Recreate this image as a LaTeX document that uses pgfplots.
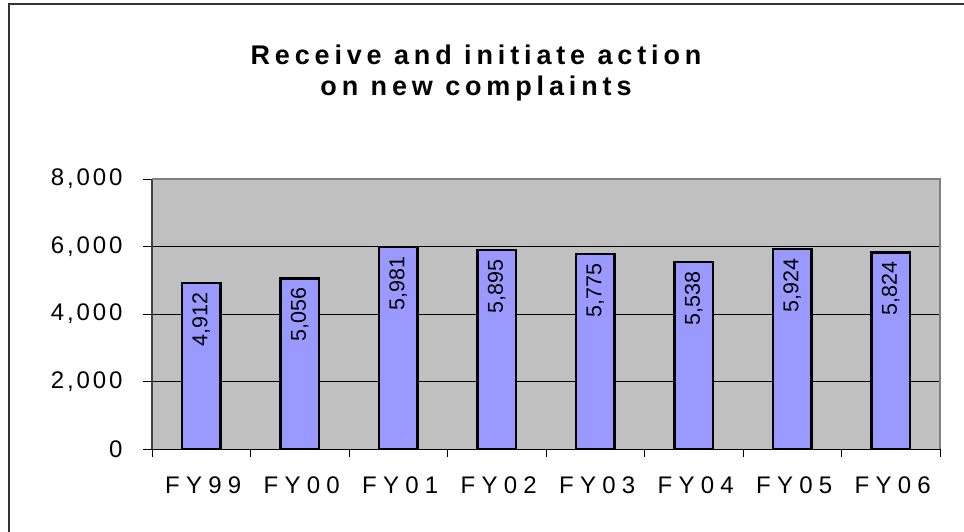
\documentclass[border=0pt]{standalone}
\usepackage{pgfplots}
\pgfplotsset{compat=1.18}
\usepackage{fontspec}
\setmainfont{Liberation Sans}
\newfontfamily\ylabfont[LetterSpace=12]{Liberation Sans}
\newfontfamily\xlabfont[LetterSpace=26]{Liberation Sans}
\newfontfamily\titlefont[LetterSpace=18]{Liberation Sans}
\definecolor{barfill}{HTML}{9999FF}
\definecolor{wall}{HTML}{C0C0C0}
\definecolor{walledge}{HTML}{808080}
\begin{document}
\begin{tikzpicture}
\path[use as bounding box] (0,0) rectangle (964pt,531pt);
\fill[white] (0,0) rectangle (964pt,531pt);
\draw[line width=2pt, black!80] (8.5pt,-2pt) -- (8.5pt,527pt) -- (966pt,527pt);
\node[font=\titlefont\bfseries\fontsize{27}{30}\selectfont, anchor=base] at (476pt,466pt) {Receive and initiate action};
\node[font=\titlefont\bfseries\fontsize{27}{30}\selectfont, anchor=base] at (476pt,435pt) {on new complaints};
\begin{axis}[
  at={(152pt,82pt)}, anchor=south west,
  scale only axis, width=788pt, height=270pt,
  xmin=-0.5, xmax=7.5, ymin=0, ymax=8000,
  axis background/.style={fill=wall},
  axis x line*=bottom, axis y line*=left,
  x axis line style={black, line width=0.8pt, -},
  y axis line style={black!75, line width=1.8pt, -},
  xtick={0,...,7},
  xticklabels={FY99,FY00,FY01,FY02,FY03,FY04,FY05,FY06},
  minor xtick={-0.5,0.5,...,7.5},
  major x tick style={draw=none},
  minor x tick style={black, line width=0.8pt},
  minor tick length=8pt,
  major tick length=9pt,
  tick align=outside,
  ytick={0,2000,4000,6000,8000},
  yticklabels={0,{2,000},{4,000},{6,000},{8,000}},
  y tick style={black, line width=0.8pt},
  ymajorgrids, grid style={black, line width=0.8pt},
  xticklabel style={font=\xlabfont\fontsize{24}{28}\selectfont, yshift=-15pt, xshift=2pt},
  yticklabel style={font=\ylabfont\fontsize{24}{28}\selectfont, xshift=-17pt},
  /pgf/number format/assume math mode=true,
  /pgf/number format/1000 sep={,},
  ybar, bar width=38.5pt,
  nodes near coords,
  every node near coord/.append style={font=\fontsize{21.5}{24}\selectfont, rotate=90, anchor=east, inner xsep=8pt, black},
  clip=false,
]
\addplot[fill=barfill, draw=black, line width=2.5pt] coordinates {
  (0,4912) (1,5056) (2,5981) (3,5895) (4,5775) (5,5538) (6,5924) (7,5824)
};
\draw[walledge, line width=2.5pt] (rel axis cs:0,1) -- (rel axis cs:1,1) -- (rel axis cs:1,0);
\end{axis}
\end{tikzpicture}
\end{document}
